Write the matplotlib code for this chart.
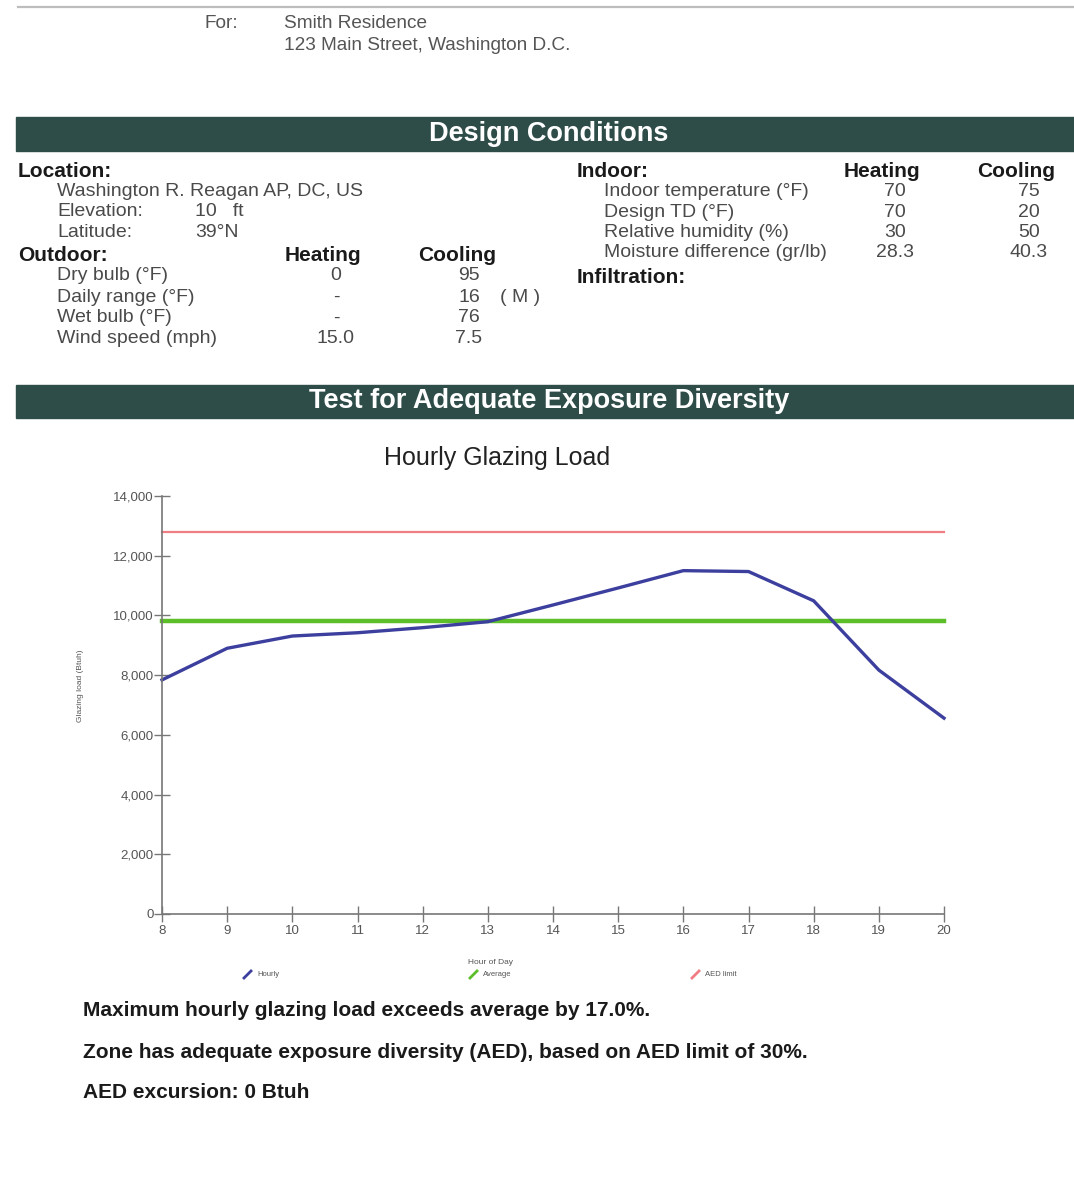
import matplotlib
matplotlib.use("Agg")
import matplotlib.pyplot as plt
from matplotlib.patches import Rectangle
from matplotlib.lines import Line2D
from matplotlib.ticker import FuncFormatter

plt.rcParams['font.family'] = ['Liberation Sans', 'DejaVu Sans']

# data
hours = [8, 9, 10, 11, 12, 13, 14, 15, 16, 17, 18, 19, 20]
hourly_load = [7840, 8900, 9310, 9420, 9590, 9790, 10350, 10920, 11500, 11470, 10490, 8170, 6560]
average_load = 9830
aed_limit = 12780
y_ticks = [0, 2000, 4000, 6000, 8000, 10000, 12000, 14000]

outdoor_rows = ["Dry bulb (°F)", "Daily range (°F)", "Wet bulb (°F)", "Wind speed (mph)"]
outdoor_heat = ["0", "-", "-", "15.0"]
outdoor_cool = ["95", "16", "76", "7.5"]
indoor_rows = ["Indoor temperature (°F)", "Design TD (°F)", "Relative humidity (%)",
               "Moisture difference (gr/lb)"]
indoor_heat = ["70", "70", "30", "28.3"]
indoor_cool = ["75", "20", "50", "40.3"]

W, H = 1074, 1189
fig = plt.figure(figsize=(W / 100, H / 100), dpi=100)
fig.patch.set_facecolor('white')

BAR = '#2e4d49'
GREY = '#4a4a4a'
BODY = 14


def T(x, y, s, **kw):
    kw.setdefault('va', 'center')
    kw.setdefault('color', GREY)
    return fig.text(x / W, 1 - y / H, s, **kw)


def bar(y0, y1, title):
    fig.patches.append(Rectangle((16 / W, 1 - y1 / H), (W - 16) / W, (y1 - y0) / H,
                                 transform=fig.transFigure, color=BAR, zorder=0))
    T(549, (y0 + y1) / 2, title, ha='center', color='white', fontsize=19.5, fontweight='bold')


# top rule and address
fig.add_artist(Line2D([18 / W, 1], [1 - 7 / H, 1 - 7 / H], color='#bdbdbd', lw=1.6))
T(204, 24, "For:", fontsize=13.7, color='#555555')
T(284, 24, "Smith Residence", fontsize=13.7, color='#555555')
T(284, 46, "123 Main Street, Washington D.C.", fontsize=13.7, color='#555555')

bar(117, 151, "Design Conditions")

# left block
hb = dict(fontsize=15, fontweight='bold', color='#1a1a1a')
T(18, 172, "Location:", **hb)
T(57, 192, "Washington R. Reagan AP, DC, US", fontsize=BODY)
T(57, 212, "Elevation:", fontsize=BODY)
T(195, 212, "10   ft", fontsize=BODY)
T(57, 233, "Latitude:", fontsize=BODY)
T(195, 233, "39°N", fontsize=BODY)
T(18, 255, "Outdoor:", **hb)
T(323, 255, "Heating", ha='center', **hb)
T(457, 255, "Cooling", ha='center', **hb)
for i, name in enumerate(outdoor_rows):
    y = 276 + i * 21
    T(57, y, name, fontsize=BODY)
    T(336, y, outdoor_heat[i], ha='center', fontsize=BODY)
    T(469, y, outdoor_cool[i], ha='center', fontsize=BODY)
T(520, 297, "( M )", ha='center', fontsize=BODY)

# right block
T(577, 172, "Indoor:", **hb)
T(882, 172, "Heating", ha='center', **hb)
T(1016, 172, "Cooling", ha='center', **hb)
for i, name in enumerate(indoor_rows):
    y = 192 + i * 20.3
    T(604, y, name, fontsize=BODY)
    T(895, y, indoor_heat[i], ha='center', fontsize=BODY)
    T(1029, y, indoor_cool[i], ha='center', fontsize=BODY)
T(577, 278, "Infiltration:", **hb)

bar(385, 418, "Test for Adequate Exposure Diversity")

# chart
T(497, 458, "Hourly Glazing Load", ha='center', fontsize=18, color='#222222')
ax = fig.add_axes([162 / W, 1 - 914 / H, (944 - 162) / W, (914 - 496) / H])
ax.plot(hours, [aed_limit] * len(hours), color='#f07c84', lw=1.6, clip_on=False)
ax.plot(hours, [average_load] * len(hours), color='#5cbf2a', lw=3.2, clip_on=False)
ax.plot(hours, hourly_load, color='#3c3f9e', lw=2.4, clip_on=False)
ax.set_xlim(8, 20)
ax.set_ylim(0, 14000)
ax.set_xticks(hours)
ax.set_yticks(y_ticks)
ax.yaxis.set_major_formatter(FuncFormatter(lambda v, p: f"{int(v):,}"))
for s in ['top', 'right']:
    ax.spines[s].set_visible(False)
for s in ['left', 'bottom']:
    ax.spines[s].set_color('#777777')
    ax.spines[s].set_linewidth(1.2)
ax.tick_params(axis='both', direction='inout', length=12, width=1, color='#777777',
               labelsize=9.5, labelcolor='#555555', pad=2)
ax.tick_params(axis='y', pad=0)
ax.set_facecolor('none')

T(80, 686, "Glazing load (Btuh)", ha='center', rotation=90, fontsize=6, color='#555555')
T(490, 962, "Hour of Day", ha='center', fontsize=6, color='#555555')

# legend
for x0, col, lab in [(244, '#3c3f9e', "Hourly"), (470, '#5cbf2a', "Average"),
                     (692, '#f07c84', "AED limit")]:
    fig.add_artist(Line2D([x0 / W, (x0 + 7) / W], [1 - 978 / H, 1 - 971 / H],
                          color=col, lw=2, transform=fig.transFigure))
    T(x0 + 13, 975, lab, fontsize=5.5, color='#555555')

# notes
nb = dict(fontsize=15, fontweight='bold', color='#1a1a1a')
T(83, 1011, "Maximum hourly glazing load exceeds average by 17.0%.", **nb)
T(83, 1052, "Zone has adequate exposure diversity (AED), based on AED limit of 30%.", **nb)
T(83, 1093, "AED excursion: 0 Btuh", **nb)

fig.savefig("out.png", dpi=100)
